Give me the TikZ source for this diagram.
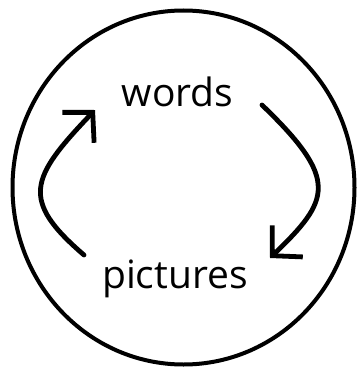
\documentclass[tikz,border=0pt]{standalone}
\usepackage{fontspec}
\setmainfont{Open Sans}
\usetikzlibrary{arrows.meta}

\tikzset{
  cyclearrow/.style={line width=4.8pt, line cap=round,
    -{Straight Barb[length=21pt, width=44pt, line width=4.8pt]}},
  label/.style={anchor=base, inner sep=0pt, font=\fontsize{39}{47}\selectfont}
}

\begin{document}
\begin{tikzpicture}[x=1pt,y=-1pt]
        \useasboundingbox (0,0) rectangle (360,369);
        \draw[line width=4pt] (183.5,187.5) ellipse [x radius=171pt, y radius=177pt];
        \node[label] (words) at (177.5,106.5) {words};
        \node[label] (pictures) at (175,288) {pictures};
        % ends of the two arrows
        \coordinate (wordsout) at (262,105);
        \coordinate (picturesin) at (270,258);
        \coordinate (picturesout) at (84,255);
        \coordinate (wordsin) at (95,110);
        \draw[cyclearrow] (wordsout) .. controls (340,180) and (330,200) .. (picturesin);
        \draw[cyclearrow] (picturesout) .. controls (20,200) and (30,178) .. (wordsin);
    \end{tikzpicture}
\end{document}
